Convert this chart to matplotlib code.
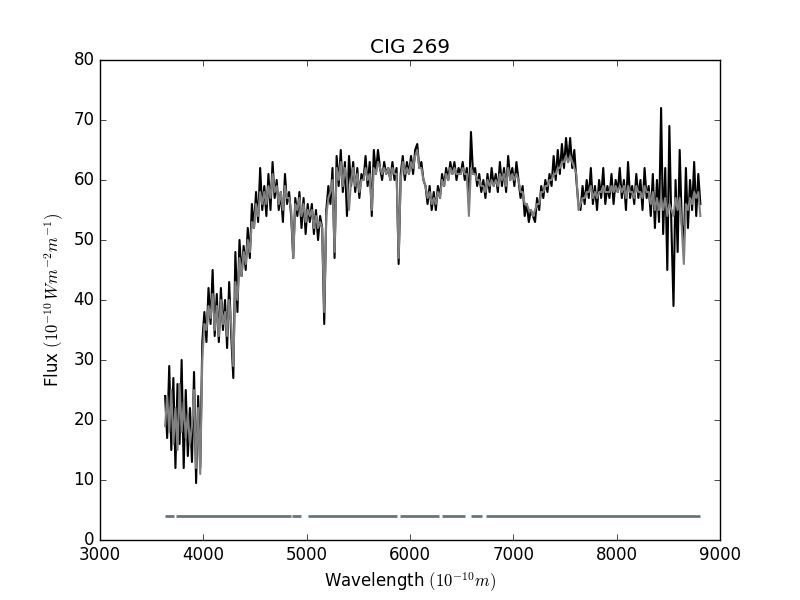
import matplotlib
matplotlib.use('Agg')
import matplotlib.pyplot as plt
import numpy as np

# wavelength grid (Angstrom), 20 A sampling
wave = np.arange(3630, 8811, 20)

# observed flux (black)
flux_obs = [
    24, 17, 29, 15, 27, 12, 26, 16, 30, 12,
    25, 14, 22, 13, 28, 9.5, 24, 12, 33, 38,
    33, 42, 36, 45, 34, 41, 33, 42, 35, 40,
    32, 43, 34, 27, 48, 38, 50, 44, 49, 45,
    52, 47, 56, 52, 58, 53, 62, 55, 59, 54,
    61, 55, 63, 57, 60, 55, 58, 53, 61, 56,
    58, 54, 47, 57, 54, 58, 52, 57, 51, 56,
    53, 56, 51, 55, 50, 54, 52, 36, 55, 59,
    56, 62, 47, 64, 59, 65, 58, 63, 54, 64,
    59, 63, 58, 62, 57, 61, 60, 64, 59, 63,
    54, 65, 61, 65, 62, 60, 63, 61, 62, 60,
    63, 60, 62, 46, 61, 64, 60, 63, 61, 64,
    61, 65, 66, 62, 63, 60, 59, 56, 59, 55,
    58, 55, 59, 57, 61, 59, 62, 60, 63, 61,
    63, 60, 62, 61, 63, 60, 62, 56, 68, 61,
    62, 59, 61, 58, 60, 57, 61, 58, 62, 59,
    61, 58, 63, 59, 62, 58, 64, 60, 62, 59,
    63, 60, 57, 59, 54, 56, 53, 55, 54, 53,
    57, 55, 59, 57, 60, 58, 61, 59, 64, 60,
    65, 61, 66, 62, 67, 63, 67, 62, 65, 60,
    56, 55, 59, 56, 60, 57, 62, 56, 59, 55,
    60, 57, 62, 56, 59, 57, 61, 56, 60, 58,
    62, 57, 60, 55, 63, 57, 59, 56, 61, 57,
    60, 55, 62, 57, 59, 54, 61, 52, 60, 53,
    72, 51, 62, 45, 69, 52, 39, 60, 48, 65,
    53, 49, 62, 52, 60, 55, 63, 54, 61, 56,
]

# model flux (grey)
flux_model = [
    19, 24, 18, 25, 16, 22, 15, 26, 18, 23,
    17, 21, 16, 19, 25, 12, 22, 11, 30, 36,
    35, 39, 37, 41, 35, 39, 34, 40, 36, 38,
    34, 40, 36, 29, 43, 40, 47, 44, 48, 46,
    50, 48, 53, 52, 56, 54, 58, 56, 58, 56,
    59, 57, 61, 58, 59, 56, 58, 55, 59, 57,
    57, 55, 47, 56, 55, 57, 54, 56, 53, 55,
    54, 55, 52, 54, 52, 53, 52, 38, 54, 57,
    58, 60, 48, 62, 60, 63, 59, 62, 60, 55,
    60, 62, 59, 61, 58, 60, 60, 62, 60, 61,
    55, 62, 61, 63, 62, 61, 62, 61, 62, 60,
    62, 61, 61, 47, 60, 63, 61, 62, 61, 63,
    62, 64, 65, 62, 62, 60, 59, 57, 58, 56,
    57, 56, 58, 57, 60, 59, 61, 60, 62, 61,
    62, 61, 61, 61, 62, 61, 61, 54, 62, 61,
    61, 60, 60, 59, 59, 58, 60, 59, 60, 59,
    60, 59, 61, 60, 61, 59, 62, 60, 61, 60,
    61, 60, 58, 58, 56, 56, 55, 55, 54, 55,
    56, 56, 58, 58, 59, 59, 60, 60, 61, 61,
    62, 62, 63, 63, 64, 63, 64, 63, 62, 61,
    55, 56, 57, 57, 58, 58, 59, 57, 58, 57,
    58, 58, 59, 58, 58, 58, 59, 58, 59, 58,
    59, 58, 59, 57, 59, 58, 58, 57, 59, 58,
    58, 57, 59, 58, 58, 56, 58, 55, 57, 55,
    57, 55, 57, 54, 56, 55, 54, 57, 55, 57,
    52, 46, 56, 55, 57, 56, 58, 57, 58, 54,
]

# fitted wavelength ranges (mask)
mask_start = [3631, 3731, 4858, 5013, 5903, 6310, 6590, 6735]
mask_end = [3716, 4848, 4945, 5871, 6281, 6532, 6700, 8811]
mask_level = 4

plt.style.use('classic')
fig, ax = plt.subplots(figsize=(8, 6), dpi=100)

ax.plot(wave, flux_obs, color='black', lw=1.5)
ax.plot(wave, flux_model, color='grey', lw=1.5)
for s, e in zip(mask_start, mask_end):
    ax.plot([s, e], [mask_level, mask_level], color='#66767e', lw=2,
            solid_capstyle='butt')

ax.set_xlim(3000, 9000)
ax.set_ylim(0, 80)
ax.set_title('CIG 269')
ax.set_xlabel(r'Wavelength $(10^{-10}m)$')
ax.set_ylabel(r'Flux $(10^{-10}\,Wm^{-2}m^{-1})$')

fig.savefig('out.png', dpi=100)
